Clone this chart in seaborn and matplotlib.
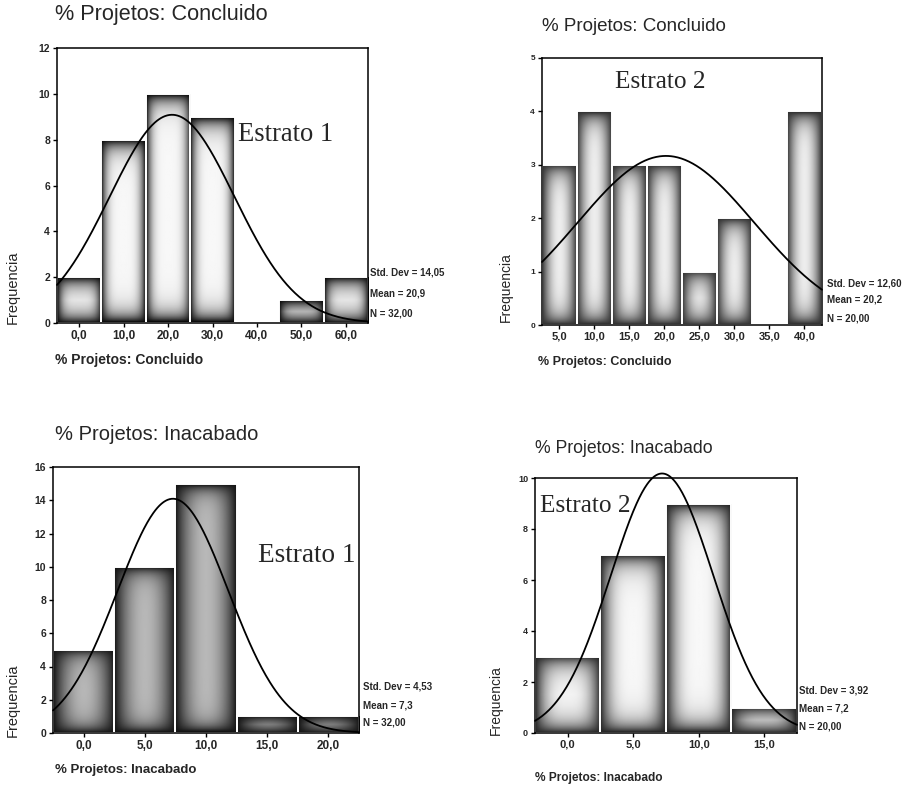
import numpy as np
import pandas as pd
import matplotlib
matplotlib.use("Agg")
import matplotlib.pyplot as plt
import seaborn as sns

sns.set_theme(style="white")
plt.rcParams['font.family'] = ['Liberation Sans', 'DejaVu Sans']

# ---------------- data ----------------
# Panel A: % Projetos: Concluido, Estrato 1
a_centers = [0, 10, 20, 30, 40, 50, 60]
a_counts = [2, 8, 10, 9, 0, 1, 2]
a_ticklabels = ["0,0", "10,0", "20,0", "30,0", "40,0", "50,0", "60,0"]
a_sd, a_mean, a_n = 14.05, 20.9, 32
a_stats = ["Std. Dev = 14,05", "Mean = 20,9", "N = 32,00"]

# Panel B: % Projetos: Concluido, Estrato 2
b_centers = [5, 10, 15, 20, 25, 30, 35, 40]
b_counts = [3, 4, 3, 3, 1, 2, 0, 4]
b_ticklabels = ["5,0", "10,0", "15,0", "20,0", "25,0", "30,0", "35,0", "40,0"]
b_sd, b_mean, b_n = 12.60, 20.2, 20
b_stats = ["Std. Dev = 12,60", "Mean = 20,2", "N = 20,00"]

# Panel C: % Projetos: Inacabado, Estrato 1
c_centers = [0, 5, 10, 15, 20]
c_counts = [5, 10, 15, 1, 1]
c_ticklabels = ["0,0", "5,0", "10,0", "15,0", "20,0"]
c_sd, c_mean, c_n = 4.53, 7.3, 32
c_stats = ["Std. Dev = 4,53", "Mean = 7,3", "N = 32,00"]

# Panel D: % Projetos: Inacabado, Estrato 2
d_centers = [0, 5, 10, 15]
d_counts = [3, 7, 9, 1]
d_ticklabels = ["0,0", "5,0", "10,0", "15,0"]
d_sd, d_mean, d_n = 3.92, 7.2, 20
d_stats = ["Std. Dev = 3,92", "Mean = 7,2", "N = 20,00"]

titles = ["% Projetos: Concluido", "% Projetos: Concluido",
          "% Projetos: Inacabado", "% Projetos: Inacabado"]
strata = ["Estrato 1", "Estrato 2", "Estrato 1", "Estrato 2"]

fig = plt.figure(figsize=(9.03, 7.85), dpi=100)


def gradient(h_px, base, top, a, k, n=80):
    """Shaded bar fill: relative horizontal falloff, fixed-pixel vertical border."""
    u = np.linspace(-1, 1, n)
    ypx = np.linspace(0, h_px, n)
    dy = np.minimum(ypx, h_px - ypx)
    hx = 1 - np.abs(u) ** a
    hy = 1 - np.exp(-dy / k)
    return base + (top - base) * np.outer(hy, hx)


def panel(rect, centers, counts, width, ticklabels, ymax, ystep,
          sd, mean, n, stats, title, stratum, layout, grad):
    ax = fig.add_axes(rect)
    ax_h_px = rect[3] * 785
    lo = centers[0] - width / 2
    hi = centers[-1] + width / 2
    df = pd.DataFrame({"x": centers, "w": counts})
    sns.histplot(data=df, x="x", weights="w", binwidth=width,
                 binrange=(lo, hi), ax=ax, color="#bdbdbd",
                 edgecolor="white", linewidth=1.4, alpha=1, zorder=2)
    for p in list(ax.patches):
        h = p.get_height()
        p.set_facecolor("none")
        if h <= 0:
            continue
        x0, w = p.get_x(), p.get_width()
        img = gradient(h / ymax * ax_h_px, *grad)
        im = ax.imshow(img, extent=(x0, x0 + w, 0, h), cmap="gray",
                       vmin=0, vmax=1, aspect="auto", zorder=1.5,
                       interpolation="bilinear")
        im.set_clip_path(p)
    # fitted normal curve from the stated statistics
    xs = np.linspace(lo, hi, 300)
    ys = n * width / (sd * np.sqrt(2 * np.pi)) * np.exp(-0.5 * ((xs - mean) / sd) ** 2)
    sns.lineplot(x=xs, y=ys, ax=ax, color="black", linewidth=1.3,
                 zorder=4, clip_on=False)
    ax.set_xlim(lo, hi)
    ax.set_ylim(0, ymax)
    ax.set_xticks(centers)
    ax.set_xticklabels(ticklabels, fontsize=layout["xt"], fontweight="bold")
    yt = np.arange(0, ymax + 0.001, ystep)
    ax.set_yticks(yt)
    ax.set_yticklabels([f"{int(t)}" for t in yt], fontsize=layout["yt"],
                       fontweight="bold")
    ax.tick_params(axis="both", direction="out", length=3, width=1,
                   color="black", pad=2, bottom=True, left=True)
    for s in ax.spines.values():
        s.set_visible(True)
        s.set_color("black")
        s.set_linewidth(1.1)
    ax.set_ylabel("Frequencia", fontsize=layout["yl"])
    ax.yaxis.set_label_coords(*layout["ylc"])
    ax.set_xlabel(title, fontsize=layout["xl"], fontweight="bold",
                  ha="left", va="center")
    ax.xaxis.set_label_coords(*layout["xlc"])
    ax.set_title(title, loc="left", fontsize=layout["ti"], x=layout["tic"][0],
                 y=layout["tic"][1], va="center", ha="left")
    for txt, yy in zip(stats, layout["sty"]):
        ax.text(layout["stx"], yy, txt, transform=ax.transAxes,
                fontsize=layout["st"], fontweight="bold", ha="left",
                va="center", clip_on=False)
    ax.text(layout["es"][0], layout["es"][1], stratum, transform=ax.transAxes,
            fontsize=layout["esf"], family=["Liberation Serif", "DejaVu Serif"],
            ha="left", va="center", zorder=5)
    return ax


panel([57 / 903, 1 - 323 / 785, 311 / 903, 275 / 785],
      a_centers, a_counts, 10, a_ticklabels, 12, 2, a_sd, a_mean, a_n, a_stats,
      titles[0], strata[0],
      dict(xt=8.5, yt=7.5, yl=10.5, xl=10, ti=15.6, st=7, esf=19.2,
           ylc=(-0.119, 0.131), xlc=(-0.006, -0.135), tic=(-0.006, 1.091),
           stx=1.006, sty=[0.185, 0.109, 0.036], es=(0.582, 0.684)),
      (0.04, 0.97, 4, 9))

panel([542 / 903, 1 - 325 / 785, 280 / 903, 267 / 785],
      b_centers, b_counts, 5, b_ticklabels, 5, 1, b_sd, b_mean, b_n, b_stats,
      titles[1], strata[1],
      dict(xt=8, yt=6, yl=10, xl=9, ti=13.5, st=7, esf=18.2,
           ylc=(-0.104, 0.142), xlc=(-0.014, -0.139), tic=(0.0, 1.086),
           stx=1.018, sty=[0.157, 0.094, 0.026], es=(0.261, 0.910)),
      (0.2, 0.93, 2, 10))

panel([53 / 903, 1 - 733 / 785, 306 / 903, 266 / 785],
      c_centers, c_counts, 5, c_ticklabels, 16, 2, c_sd, c_mean, c_n, c_stats,
      titles[2], strata[2],
      dict(xt=8.5, yt=7.5, yl=10.5, xl=9.5, ti=14.5, st=7, esf=19.6,
           ylc=(-0.108, 0.124), xlc=(0.007, -0.139), tic=(0.007, 1.090),
           stx=1.013, sty=[0.173, 0.105, 0.038], es=(0.670, 0.669)),
      (0.08, 0.72, 2, 8))

panel([535 / 903, 1 - 733 / 785, 262 / 903, 255 / 785],
      d_centers, d_counts, 5, d_ticklabels, 10, 2, d_sd, d_mean, d_n, d_stats,
      titles[3], strata[3],
      dict(xt=8, yt=6.5, yl=10, xl=8.6, ti=12.7, st=7, esf=18.2,
           ylc=(-0.122, 0.129), xlc=(0.0, -0.176), tic=(0.0, 1.082),
           stx=1.008, sty=[0.165, 0.098, 0.027], es=(0.019, 0.890)),
      (0.15, 0.97, 3, 10))

fig.savefig("out.png", dpi=100)
